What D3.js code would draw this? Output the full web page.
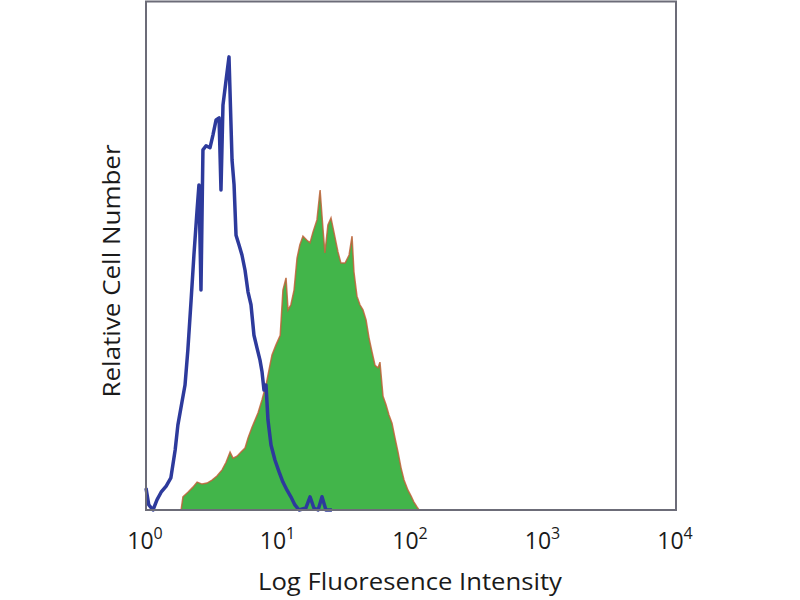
<!DOCTYPE html>
<html>
<head>
<meta charset="utf-8">
<script src="https://cdn.jsdelivr.net/npm/d3@7"></script>
<style>
  body { margin: 0; background: #fff; }
  text { font-family: "Open Sans", "DejaVu Sans", sans-serif; fill: #1a1a1a; }
</style>
</head>
<body>
<div id="chart"></div>
<script>
const width = 800;
const height = 600;

// Isotype control (blue line): intensity, relative count
const controlIntensity = [1.00, 1.05, 1.13, 1.21, 1.30, 1.42, 1.54, 1.66, 1.74, 1.87, 1.97, 2.07, 2.19, 2.30, 2.43, 2.51, 2.60, 2.69, 2.84, 3.04, 3.20, 3.38, 3.56, 3.68, 3.81, 4.02, 4.23, 4.46, 4.62, 4.78, 5.03, 5.30, 5.59, 5.89, 6.20, 6.53, 6.88, 7.25, 7.51, 7.77, 8.05, 8.33, 8.78, 9.41, 10.1, 10.8, 11.6, 12.4, 13.3, 14.3, 16.1, 17.3, 18.5, 19.9, 21.3, 22.8, 25.3];
const controlCount = [4.3, 1.0, 0, 2.0, 3.5, 4.7, 6.3, 11.8, 16.7, 21.3, 24.6, 31.5, 41.3, 50.2, 59.1, 64.0, 43.3, 70.9, 71.7, 71.3, 73.8, 76.8, 77.2, 63.0, 79.7, 84.6, 89.2, 68.9, 64.0, 54.1, 52.2, 50.2, 47.2, 42.9, 40.4, 34.4, 31.9, 29.5, 27.2, 23.6, 24.6, 17.7, 12.8, 9.8, 7.5, 5.5, 3.9, 2.6, 1.0, 0, 0.4, 2.6, 0.4, 0, 2.6, 0, 0];

// Stained sample (green filled)
const stainedIntensity = [1.84, 1.90, 2.07, 2.26, 2.43, 2.65, 2.89, 3.15, 3.43, 3.75, 4.02, 4.31, 4.54, 4.86, 5.21, 5.59, 5.89, 6.31, 6.65, 7.00, 7.51, 8.05, 8.48, 8.93, 9.57, 10.3, 10.8, 11.4, 11.8, 12.4, 13.1, 13.8, 14.5, 15.3, 16.4, 17.3, 18.2, 19.5, 20.6, 21.7, 22.4, 23.6, 24.9, 26.2, 28.1, 29.6, 31.8, 34.1, 35.9, 37.1, 39.1, 41.2, 43.4, 45.8, 48.2, 50.8, 53.5, 56.4, 58.3, 61.5, 64.8, 68.2, 71.9, 75.7, 79.8, 84.1, 88.6, 94.9, 100, 105, 111, 115];
const stainedCount = [0, 2.6, 3.5, 4.5, 5.5, 5.1, 5.3, 5.9, 6.7, 7.9, 9.4, 11.4, 10.2, 10.6, 11.4, 12.2, 14.2, 16.3, 17.7, 19.1, 21.7, 24.6, 27.6, 30.5, 32.5, 34.4, 43.3, 45.7, 39.4, 40.4, 43.3, 49.6, 52.2, 53.9, 53.1, 52.6, 54.7, 57.1, 63.0, 55.1, 50.6, 56.1, 57.5, 54.7, 50.8, 48.6, 48.6, 50.2, 53.9, 46.9, 42.1, 40.4, 39.4, 37.4, 33.9, 31.1, 28.5, 28.0, 29.1, 22.4, 20.7, 18.7, 17.1, 14.2, 11.4, 8.3, 5.9, 3.9, 2.8, 1.6, 0.6, 0];

const tickValues = [1, 10, 100, 1000, 10000];
const tickExponents = ["0", "1", "2", "3", "4"];

const control = controlIntensity.map((v, i) => ({x: v, y: controlCount[i]}));
const stained = stainedIntensity.map((v, i) => ({x: v, y: stainedCount[i]}));

const x = d3.scaleLog().domain([1, 10000]).range([146, 676]);
const y = d3.scaleLinear().domain([0, 100]).range([510, 2]);

const svg = d3.select("#chart").append("svg")
  .attr("width", width)
  .attr("height", height)
  .attr("viewBox", [0, 0, width, height]);

// green filled histogram
const area = d3.area()
  .x(d => x(d.x))
  .y0(y(0))
  .y1(d => y(d.y));

const line = d3.line()
  .x(d => x(d.x))
  .y(d => y(d.y));

svg.append("path")
  .datum(stained)
  .attr("d", area)
  .attr("fill", "#42b54a");

svg.append("path")
  .datum(stained)
  .attr("d", line)
  .attr("fill", "none")
  .attr("stroke", "#bf6238")
  .attr("stroke-width", 1.5)
  .attr("stroke-opacity", 0.85);

// blue control line on top
svg.append("path")
  .datum(control)
  .attr("d", line)
  .attr("fill", "none")
  .attr("stroke", "#2d3a9c")
  .attr("stroke-width", 3.5)
  .attr("stroke-linejoin", "round");

// frame
svg.append("rect")
  .attr("x", 146)
  .attr("y", 1.5)
  .attr("width", 530)
  .attr("height", 508.5)
  .attr("fill", "none")
  .attr("stroke", "#6c6c78")
  .attr("stroke-width", 2);

// tick labels 10^n
const ticks = svg.append("g")
  .selectAll("text")
  .data(tickValues)
  .join("text")
  .attr("x", d => x(d) - 1)
  .attr("y", 549)
  .attr("text-anchor", "middle")
  .attr("font-size", 23);

ticks.append("tspan").text("10");
ticks.append("tspan")
  .attr("dy", -10)
  .attr("font-size", 16)
  .text((d, i) => tickExponents[i]);

svg.append("text")
  .attr("x", 410)
  .attr("y", 590)
  .attr("text-anchor", "middle")
  .attr("font-size", 23)
  .attr("textLength", 304)
  .attr("lengthAdjust", "spacingAndGlyphs")
  .text("Log Fluoresence Intensity");

svg.append("text")
  .attr("transform", "translate(120,271) rotate(-90)")
  .attr("text-anchor", "middle")
  .attr("font-size", 23)
  .attr("textLength", 253)
  .attr("lengthAdjust", "spacingAndGlyphs")
  .text("Relative Cell Number");
</script>
</body>
</html>
